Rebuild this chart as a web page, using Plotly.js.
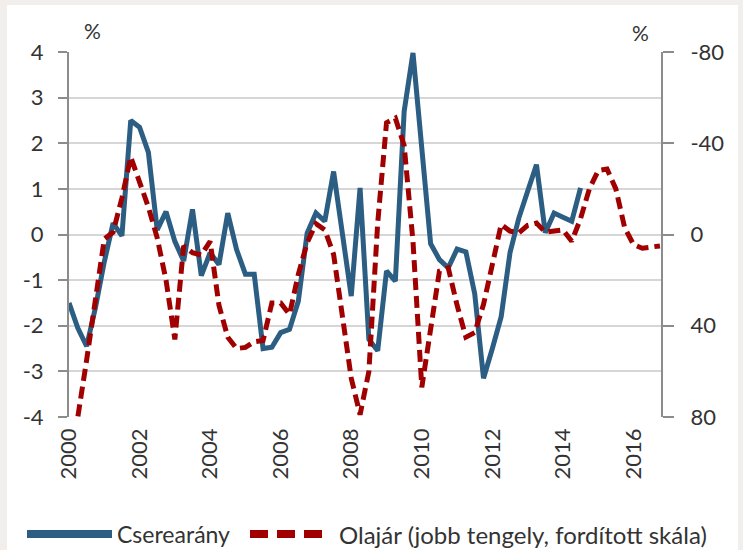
<!DOCTYPE html>
<html>
<head>
<meta charset="utf-8">
<script src="https://cdn.plot.ly/plotly-3.0.1.min.js"></script>
<style>
  html, body { margin: 0; padding: 0; background: #f2eeeb; }
  #frame { position: absolute; left: 7px; top: 5px; width: 731px; height: 545px; background: #ffffff; }
  #chart { position: absolute; left: 0; top: 0; width: 743px; height: 550px; }
</style>
</head>
<body>
<div id="frame"></div>
<div id="chart"></div>
<script>
// Quarterly series starting 2000 Q1
const startYear = 2000;

// Cserearány (left axis, %), 2000Q1 .. 2014Q3
const cserearany = [
  -1.5, -2.05, -2.45, -1.6, -0.6, 0.25, -0.03, 2.5,
  2.35, 1.8, 0.1, 0.5, -0.15, -0.58, 0.55, -0.9,
  -0.4, -0.66, 0.47, -0.33, -0.87, -0.87, -2.5, -2.47,
  -2.15, -2.08, -1.46, 0.03, 0.47, 0.29, 1.38, 0.0,
  -1.35, 1.02, -2.3, -2.55, -0.8, -1.02, 2.7, 3.98,
  1.9, -0.2, -0.55, -0.73, -0.32, -0.38, -1.3, -3.15,
  -2.5, -1.8, -0.4, 0.36, 0.95, 1.53, 0.04, 0.47,
  0.38, 0.29, 1.02
];

// Olajár (right axis, %, reversed scale), 2000Q1 .. 2016Q4
const olajar = [
  95, 80, 55, 28, 2, -1, -16, -34,
  -23, -12, 1.5, 20, 46, 5, 8, 9,
  3, 31, 45, 50, 49.5, 47, 46.5, 30,
  30, 35, 17.5, 3.6, -4.7, -2, 8.7, 36,
  63, 79, 60, -5, -49, -51, -39, 3,
  67, 41.5, 16, 14.6, 31, 45, 43, 30.6,
  12.4, -4.4, -1.5, -0.7, -4, -5, -1, -1.5,
  -2, 3, -7, -20, -28, -28.7, -20, -3,
  4.4, 6, 5.5, 5
];

const yearLabels = [2000, 2002, 2004, 2006, 2008, 2010, 2012, 2014, 2016];
const leftTicks = [-4, -3, -2, -1, 0, 1, 2, 3, 4];
const rightTicks = [-80, -40, 0, 40, 80];

const seriesNames = ["Cserearány", "Olajár (jobb tengely, fordított skála)"];
const seriesColors = ["#2b5e82", "#a00000"];

function timeAxis(n) {
  const t = [];
  for (let i = 0; i < n; i++) t.push(startYear + i / 4);
  return t;
}

const W = 743, H = 550;
const M = { l: 69, r: 82, t: 52, b: 133 };
const PW = W - M.l - M.r, PH = H - M.t - M.b;
const px2x = p => (p - M.l) / PW;
const px2y = p => (H - M.b - p) / PH;

const FONT = "Lato, 'Open Sans', sans-serif";
const TXT = "#333333";
const XR = [2000, 2016.78];
const legendY = px2y(534);

const traces = [
  {
    x: timeAxis(cserearany.length), y: cserearany, name: seriesNames[0],
    type: "scatter", mode: "lines", xaxis: "x", yaxis: "y",
    line: { color: seriesColors[0], width: 5 }
  },
  {
    x: timeAxis(olajar.length), y: olajar, name: seriesNames[1],
    type: "scatter", mode: "lines", xaxis: "x", yaxis: "y2",
    line: { color: seriesColors[1], width: 5, dash: "12px,6px" }
  }
];

const layout = {
  width: W, height: H,
  margin: M,
  paper_bgcolor: "rgba(0,0,0,0)",
  plot_bgcolor: "#ffffff",
  font: { family: FONT, size: 22, color: TXT },
  showlegend: false,
  xaxis: {
    range: XR, showgrid: false, zeroline: false, showline: false,
    tickmode: "array", tickvals: yearLabels, ticktext: yearLabels.map(String),
    tickangle: -90, ticks: "", ticklabelstandoff: 6,
    tickfont: { family: FONT, size: 22, color: TXT }
  },
  xaxis2: {
    overlaying: "x", matches: "x", anchor: "free", position: 0.5,
    range: XR, showgrid: false, zeroline: false,
    showline: true, linecolor: "#9e9e9e", linewidth: 2,
    ticks: "outside", ticklen: 6, tickwidth: 2, tickcolor: "#9e9e9e",
    tick0: 2000, dtick: 1, showticklabels: false
  },
  yaxis: {
    range: [-4, 4], tickmode: "array", tickvals: leftTicks, ticktext: leftTicks.map(String),
    showgrid: true, gridcolor: "#d6d6d6", gridwidth: 2,
    zeroline: false, showline: true, linecolor: "#8c8c8c", linewidth: 2,
    ticks: "outside", ticklen: 9, tickwidth: 2, tickcolor: "#8c8c8c",
    ticklabelstandoff: 10,
    tickfont: { family: FONT, size: 22, color: TXT }
  },
  yaxis2: {
    overlaying: "y", side: "right", anchor: "x",
    range: [80, -80], tickmode: "array", tickvals: rightTicks, ticktext: rightTicks.map(String),
    showgrid: false, zeroline: false,
    showline: true, linecolor: "#8c8c8c", linewidth: 2,
    ticks: "outside", ticklen: 11, tickwidth: 2, tickcolor: "#8c8c8c",
    ticklabelstandoff: 12,
    tickfont: { family: FONT, size: 22, color: TXT }
  },
  shapes: [
    { type: "line", xref: "paper", yref: "paper",
      x0: px2x(27), x1: px2x(112), y0: legendY, y1: legendY,
      line: { color: seriesColors[0], width: 8 } },
    { type: "line", xref: "paper", yref: "paper",
      x0: px2x(250), x1: px2x(325), y0: legendY, y1: legendY,
      line: { color: seriesColors[1], width: 8, dash: "18px,9px" } }
  ],
  annotations: [
    { xref: "paper", yref: "paper", x: px2x(92), y: px2y(31), xanchor: "center", yanchor: "middle",
      text: "%", showarrow: false, font: { family: FONT, size: 21, color: TXT } },
    { xref: "paper", yref: "paper", x: px2x(640), y: px2y(32), xanchor: "center", yanchor: "middle",
      text: "%", showarrow: false, font: { family: FONT, size: 21, color: TXT } },
    { xref: "paper", yref: "paper", x: px2x(115), y: legendY, xanchor: "left", yanchor: "middle",
      text: seriesNames[0], showarrow: false, font: { family: FONT, size: 23, color: TXT } },
    { xref: "paper", yref: "paper", x: px2x(337), y: legendY, xanchor: "left", yanchor: "middle",
      text: seriesNames[1], showarrow: false, font: { family: FONT, size: 24, color: TXT } }
  ]
};

Plotly.newPlot("chart", traces, layout, { displayModeBar: false, staticPlot: true });
</script>
</body>
</html>
